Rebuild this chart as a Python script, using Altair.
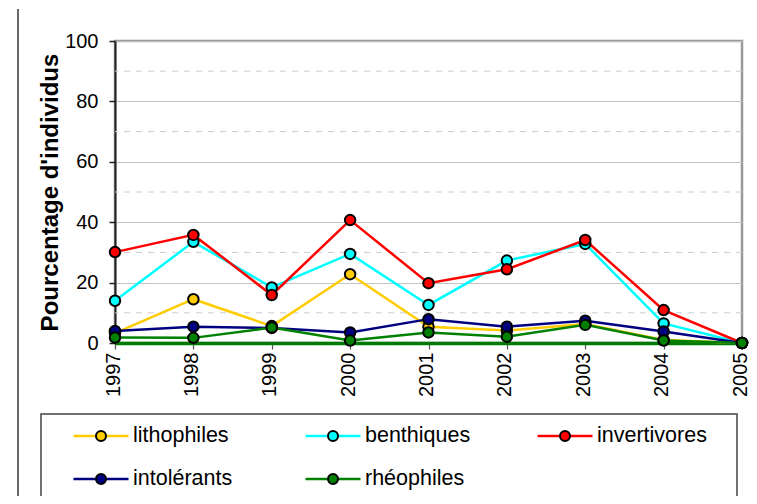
import altair as alt
import pandas as pd

annees = ["1997", "1998", "1999", "2000", "2001", "2002", "2003", "2004", "2005"]
series = ["lithophiles", "benthiques", "invertivores", "intolérants", "rhéophiles"]
couleurs = ["#FFCC00", "#00FFFF", "#FF0000", "#000080", "#008000"]

lithophiles = [3.3, 14.5, 5.6, 22.8, 5.4, 4.1, 6.3, 1.0, 0]
benthiques = [14.0, 33.5, 18.4, 29.5, 12.6, 27.3, 32.8, 6.5, 0]
invertivores = [30.1, 35.8, 15.9, 40.7, 19.8, 24.4, 34.1, 10.9, 0]
intolerants = [4.0, 5.4, 5.0, 3.5, 7.9, 5.4, 7.4, 3.8, 0]
rheophiles = [1.8, 1.7, 5.1, 0.8, 3.5, 2.1, 6.0, 0.8, 0]

y_ticks = [0, 20, 40, 60, 80, 100]
y_minor = [10, 30, 50, 70, 90]

valeurs = [lithophiles, benthiques, invertivores, intolerants, rheophiles]
rows = []
for s, vals in zip(series, valeurs):
    for a, v in zip(annees, vals):
        rows.append({"serie": s, "annee": a, "valeur": v})
df = pd.DataFrame(rows)

df_minor = pd.DataFrame({"valeur": y_minor})
df_leg = pd.DataFrame({
    "serie": series,
    "col": [i % 3 for i in range(len(series))],
    "rang": [i // 3 for i in range(len(series))],
})

FONT = "Liberation Sans"
W, H = 627, 302

color = alt.Color("serie:N", scale=alt.Scale(domain=series, range=couleurs), legend=None)
xenc = alt.X("annee:O", scale=alt.Scale(type="point", padding=0), sort=annees,
             axis=alt.Axis(title=None, labelAngle=270, labelAlign="right", labelBaseline="middle",
                           labelPadding=3, labelFontSize=20, labelFont=FONT, labelColor="black",
                           labelOffset=-2,
                           domainColor="#007a00", domainWidth=3.5, tickColor="#555555",
                           tickSize=6, tickWidth=1.2, grid=False))
yscale = alt.Scale(domain=[0, 100], nice=False)
yenc = alt.Y("valeur:Q", scale=yscale,
             axis=alt.Axis(values=y_ticks, title="Pourcentage d'individus", titleFontSize=24,
                           titleFont=FONT, titleFontWeight="bold", titleColor="black",
                           titleAngle=270, titleX=-65, titleY=H / 2, titleAlign="center",
                           titleBaseline="middle",
                           labelFontSize=20, labelFont=FONT, labelColor="black", labelPadding=11,
                           domainColor="#222222", domainWidth=2, tickColor="#222222",
                           tickSize=6, tickWidth=1.5, grid=True, gridColor="#c4c4c4",
                           gridWidth=1))

minor = alt.Chart(df_minor).mark_rule(color="#cccccc", strokeWidth=1, strokeDash=[6, 6]).encode(
    y=alt.Y("valeur:Q", scale=yscale)
)
lines = alt.Chart(df).mark_line(strokeWidth=2.5).encode(x=xenc, y=yenc, color=color,
                                                        detail="serie:N")
points = alt.Chart(df).mark_circle(size=110, stroke="black", strokeWidth=2, opacity=1).encode(
    x=xenc, y=yenc, color=color
)
main = alt.layer(minor, lines, points)

lx = alt.X("col:Q", scale=alt.Scale(domain=[0, 2], range=[-14, 450]), axis=None)
ly = alt.Y("rang:Q", scale=alt.Scale(domain=[0, 1], range=[395, 438]), axis=None)
leg_box = alt.Chart(alt.Data(values=[{}])).mark_rect(
    filled=False, stroke="#444444", strokeWidth=1.5
).encode(x=alt.value(-74), x2=alt.value(622), y=alt.value(373), y2=alt.value(461))
frame_left = alt.Chart(alt.Data(values=[{}])).mark_rule(color="#333333", strokeWidth=1.5).encode(
    x=alt.value(-97), y=alt.value(-32), y2=alt.value(460)
)
leg_lines = alt.Chart(df_leg).mark_point(
    shape="M-1,0L1,0", size=55 * 55, filled=False, strokeWidth=2.5, opacity=1
).encode(x=lx, y=ly, color=color)
leg_pts = alt.Chart(df_leg).mark_circle(size=100, stroke="black", strokeWidth=2, opacity=1).encode(
    x=lx, y=ly, color=color
)
leg_txt = alt.Chart(df_leg).mark_text(
    align="left", baseline="middle", dx=32, fontSize=21.5, font=FONT, color="black"
).encode(x=lx, y=ly, text="serie:N")
legend = alt.layer(leg_box, frame_left, leg_lines, leg_pts, leg_txt)

chart = alt.layer(main, legend).resolve_scale(x="independent", y="independent").properties(
    width=W, height=H,
    autosize=alt.AutoSizeParams(type="none"),
    padding={"left": 107, "top": 33, "right": 7, "bottom": 153},
    background="white",
).configure_view(stroke="#999999", strokeWidth=2.5)

chart.save("out.html", embed_options={"renderer": "svg", "actions": False})
